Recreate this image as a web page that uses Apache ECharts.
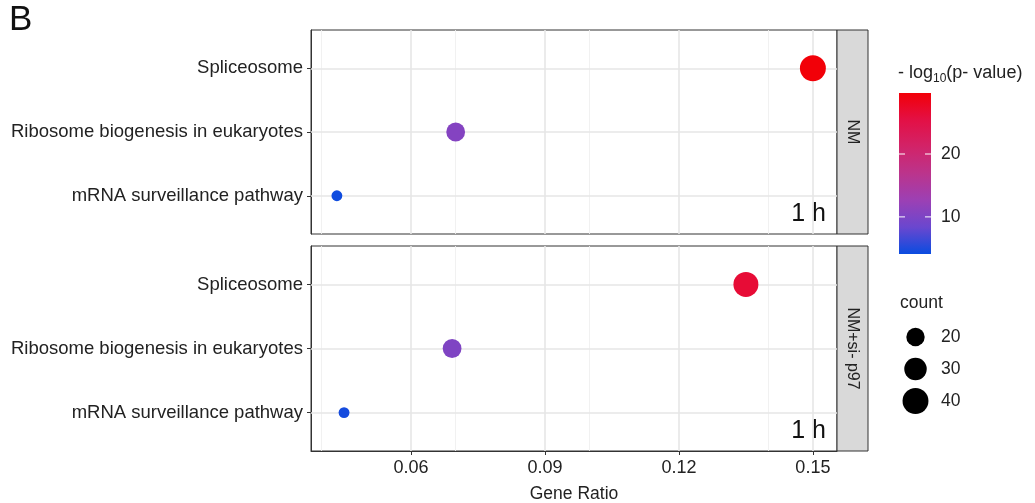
<!DOCTYPE html>
<html>
<head>
<meta charset="utf-8">
<script src="https://cdn.jsdelivr.net/npm/echarts@6/dist/echarts.min.js"></script>
<style>
  html, body { margin: 0; padding: 0; background: #fff; }
  #chart { width: 1035px; height: 503px; }
</style>
</head>
<body>
<div id="chart"></div>
<script>
// dot plot of enriched pathways, two facets (NM / NM+si- p97)
var chart = echarts.init(document.getElementById('chart'));

// data
var categories = ['mRNA surveillance pathway', 'Ribosome biogenesis in eukaryotes', 'Spliceosome'];
var panelNames = ['NM', 'NM+si- p97'];
var ratioNM = [0.0434, 0.0700, 0.150];
var ratioSi = [0.0450, 0.0692, 0.135];
var countNM = [7, 21, 40];
var countSi = [7, 21, 37];
var logpNM = [4.3, 10.6, 29.7];
var logpSi = [4.6, 10.2, 26.5];
var xTicks = [0.06, 0.09, 0.12, 0.15];
var xMinor = [0.045, 0.075, 0.105, 0.135];
var colorTicks = [10, 20];
var sizeTicks = [20, 30, 40];

// scales
var pMin = 4.1, pMax = 29.7;
var colors = ['#0a4ce0', '#6a47cf', '#9c40b4', '#bb348c', '#d22368', '#e31045', '#f20008'];
function dotSize(n) { return 4.1 * Math.sqrt(n); }

// layout
var gridLeft = 311, gridWidth = 526;
var tops = [30, 246], heights = [204, 205];
var stripW = 31;
var font = 'Liberation Sans, Arial, sans-serif';

function buildData(ratio, count, logp) {
  var out = [];
  for (var i = 0; i < categories.length; i++) {
    out.push([ratio[i], i + 1, logp[i], count[i]]);
  }
  return out;
}

function gridLines() {
  var d = [];
  xTicks.forEach(function (v) { d.push({ xAxis: v, lineStyle: { type: 'solid', color: '#e6e6e6', width: 1.6 } }); });
  xMinor.forEach(function (v) { d.push({ xAxis: v, lineStyle: { type: 'solid', color: '#efefef', width: 0.9 } }); });
  [1, 2, 3].forEach(function (v) { d.push({ yAxis: v, lineStyle: { type: 'solid', color: '#e6e6e6', width: 1.6 } }); });
  return d;
}

var grids = [], xAxes = [], yAxes = [], series = [];
var allData = [buildData(ratioNM, countNM, logpNM), buildData(ratioSi, countSi, logpSi)];

for (var k = 0; k < 2; k++) {
  grids.push({
    left: gridLeft, top: tops[k], width: gridWidth, height: heights[k],
    containLabel: false, outerBoundsMode: 'none',
    show: true, borderColor: '#333', borderWidth: 1, backgroundColor: '#fff'
  });
  xAxes.push({
    type: 'value', gridIndex: k, min: 0.0376, max: 0.1554,
    splitLine: { show: false },
    axisLine: { show: k === 1, onZero: false, lineStyle: { color: '#333', width: 1 } },
    axisTick: { show: k === 1, customValues: xTicks, length: 4, lineStyle: { color: '#333' } },
    axisLabel: {
      show: k === 1, customValues: xTicks, color: '#222', fontSize: 18, fontFamily: font, margin: 8,
      formatter: function (v) { return v.toFixed(2); }
    },
    name: k === 1 ? 'Gene Ratio' : '', nameLocation: 'middle', nameGap: 34,
    nameTextStyle: { color: '#222', fontSize: 17.5, fontFamily: font }
  });
  yAxes.push({
    type: 'value', gridIndex: k, min: 0.4, max: 3.6,
    splitLine: { show: false },
    axisLine: { show: true, onZero: false, lineStyle: { color: '#333', width: 1 } },
    axisTick: { show: true, customValues: [1, 2, 3], length: 4, lineStyle: { color: '#333' } },
    axisLabel: {
      customValues: [1, 2, 3], color: '#222', fontSize: 18.5, fontFamily: font, margin: 8,
      formatter: function (v) { return categories[Math.round(v) - 1]; }
    }
  });
  // background grid lines
  series.push({
    type: 'scatter', xAxisIndex: k, yAxisIndex: k, data: [], z: 1, silent: true,
    markLine: { symbol: 'none', silent: true, label: { show: false }, animation: false, data: gridLines() }
  });
  series.push({
    type: 'scatter', name: panelNames[k], xAxisIndex: k, yAxisIndex: k, z: 5,
    data: allData[k],
    symbolSize: function (v) { return dotSize(v[3]); },
    itemStyle: { opacity: 1 }
  });
}

// colour bar drawn as graphic
var cbX = 899, cbY = 93, cbW = 32, cbH = 161;
var stops = colors.map(function (c, i) { return { offset: i / (colors.length - 1), color: c }; });
var graphics = [
  { type: 'text', left: 9, top: 3, style: { text: 'B', fontSize: 35, fontFamily: font, fill: '#111' } },
  {
    type: 'rect', shape: { x: cbX, y: cbY, width: cbW, height: cbH },
    style: { fill: new echarts.graphic.LinearGradient(0, 1, 0, 0, stops) }
  },
  {
    type: 'text', x: 898, y: 62,
    style: {
      text: '{a|- log}{s|10}{a|(p- value)}',
      rich: {
        a: { fontSize: 18, fontFamily: font, fill: '#222' },
        s: { fontSize: 12, fontFamily: font, fill: '#222', padding: [11, 0, 0, 0] }
      }
    }
  },
  { type: 'text', x: 900, y: 294, style: { text: 'count', fontSize: 17.5, fontFamily: font, fill: '#222' } }
];
colorTicks.forEach(function (v) {
  var y = cbY + cbH - (v - pMin) / (pMax - pMin) * cbH;
  graphics.push({ type: 'line', shape: { x1: cbX, y1: y, x2: cbX + 6, y2: y }, style: { stroke: '#fff', lineWidth: 1 } });
  graphics.push({ type: 'line', shape: { x1: cbX + cbW - 6, y1: y, x2: cbX + cbW, y2: y }, style: { stroke: '#fff', lineWidth: 1 } });
  graphics.push({
    type: 'text', x: 941, y: y, style: { text: String(v), fontSize: 17.5, fontFamily: font, fill: '#222', verticalAlign: 'middle' }
  });
});
sizeTicks.forEach(function (v, i) {
  var cy = 337 + i * 32;
  graphics.push({ type: 'circle', shape: { cx: 915.5, cy: cy, r: dotSize(v) / 2 }, style: { fill: '#000' } });
  graphics.push({ type: 'text', x: 941, y: cy, style: { text: String(v), fontSize: 17.5, fontFamily: font, fill: '#222', verticalAlign: 'middle' } });
});
// facet strips and "1 h" annotations
for (var j = 0; j < 2; j++) {
  var sx = gridLeft + gridWidth;
  graphics.push({
    type: 'rect', shape: { x: sx, y: tops[j], width: stripW, height: heights[j] },
    style: { fill: '#d9d9d9', stroke: '#333', lineWidth: 1 }
  });
  graphics.push({
    type: 'text', x: sx + stripW / 2, y: tops[j] + heights[j] / 2, rotation: -Math.PI / 2,
    style: { text: panelNames[j], fontSize: 16, fontFamily: font, fill: '#222', align: 'center', verticalAlign: 'middle' }
  });
  graphics.push({
    type: 'text', x: 826, y: tops[j] + heights[j] - 20,
    style: { text: '1 h', fontSize: 25, fontFamily: font, fill: '#111', align: 'right', verticalAlign: 'middle' }
  });
}

var option = {
  backgroundColor: '#fff',
  animation: false,
  grid: grids,
  xAxis: xAxes,
  yAxis: yAxes,
  visualMap: {
    type: 'continuous', show: false, min: pMin, max: pMax, dimension: 2,
    seriesIndex: [1, 3], inRange: { color: colors }
  },
  series: series,
  graphic: graphics
};
chart.setOption(option);
</script>
</body>
</html>
